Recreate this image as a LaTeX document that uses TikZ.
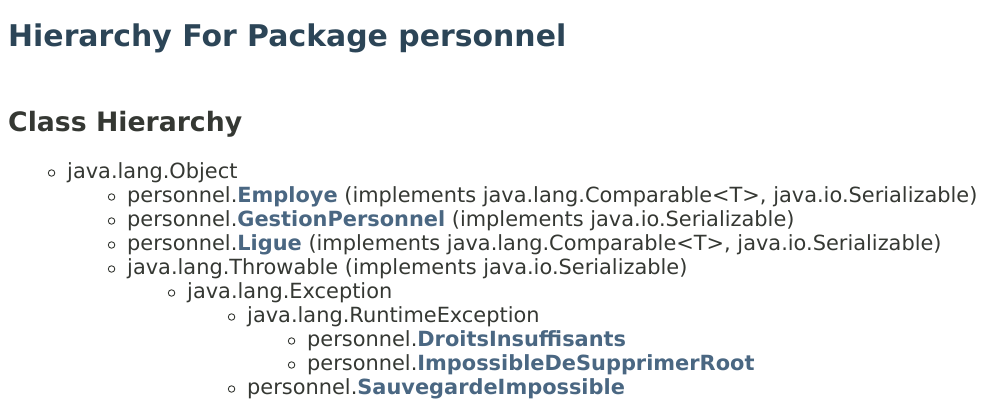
\documentclass[tikz,border=0pt]{standalone}
\usepackage{fontspec}
\setmainfont{DejaVu Sans}
\usepackage{xcolor}
\usepackage{tikz}
\usetikzlibrary{positioning}
\definecolor{headblue}{HTML}{2C4557}
\definecolor{bodygray}{HTML}{353833}
\definecolor{linkblue}{HTML}{4A6782}
\newcommand{\cls}[1]{{\bfseries\color{linkblue}#1}}

\begin{document}
\begin{tikzpicture}[
  x=1pt,y=-1pt,
  pagetitle/.style={anchor=base west,inner sep=0pt,text=headblue,
                    font=\fontsize{29.9}{36}\selectfont\bfseries},
  subtitle/.style={anchor=base west,inner sep=0pt,text=bodygray,
                   font=\fontsize{26.7}{32}\selectfont\bfseries},
  item/.style={anchor=base west,inner sep=0pt,text=bodygray,text height=15pt,
               text depth=5pt,font=\fontsize{20.9}{24}\selectfont},
  dot/.style={circle,draw=bodygray,line width=0.9pt,inner sep=0pt,minimum size=6.5pt}
]
\useasboundingbox (0,0) rectangle (985,418);
\node[pagetitle] (title) at (8,46) {Hierarchy For Package personnel};
\node[subtitle] (classes) at (8,131) {Class Hierarchy};

\node[item] (obj) at (67,178) {java.lang.Object};
\node[item] (employe) at (127,202)
  {personnel.\cls{Employe} (implements java.lang.Comparable<T>, java.io.Serializable)};
\node[item] (gestion) at (127,226)
  {personnel.\cls{GestionPersonnel} (implements java.io.Serializable)};
\node[item] (ligue) at (127,250)
  {personnel.\cls{Ligue} (implements java.lang.Comparable<T>, java.io.Serializable)};
\node[item] (throwable) at (127,274)
  {java.lang.Throwable (implements java.io.Serializable)};
\node[item] (exception) at (187,298) {java.lang.Exception};
\node[item] (runtime) at (247,322) {java.lang.RuntimeException};
\node[item] (droits) at (307,346) {personnel.\cls{DroitsInsuffisants}};
\node[item] (root) at (307,370) {personnel.\cls{ImpossibleDeSupprimerRoot}};
\node[item] (sauvegarde) at (247,394) {personnel.\cls{SauvegardeImpossible}};

% list bullets
\foreach \n in {obj,employe,gestion,ligue,throwable,exception,runtime,droits,root,sauvegarde}
  \node[dot,left=11.75pt of \n.west] (\n-dot) {};
\end{tikzpicture}
\end{document}
